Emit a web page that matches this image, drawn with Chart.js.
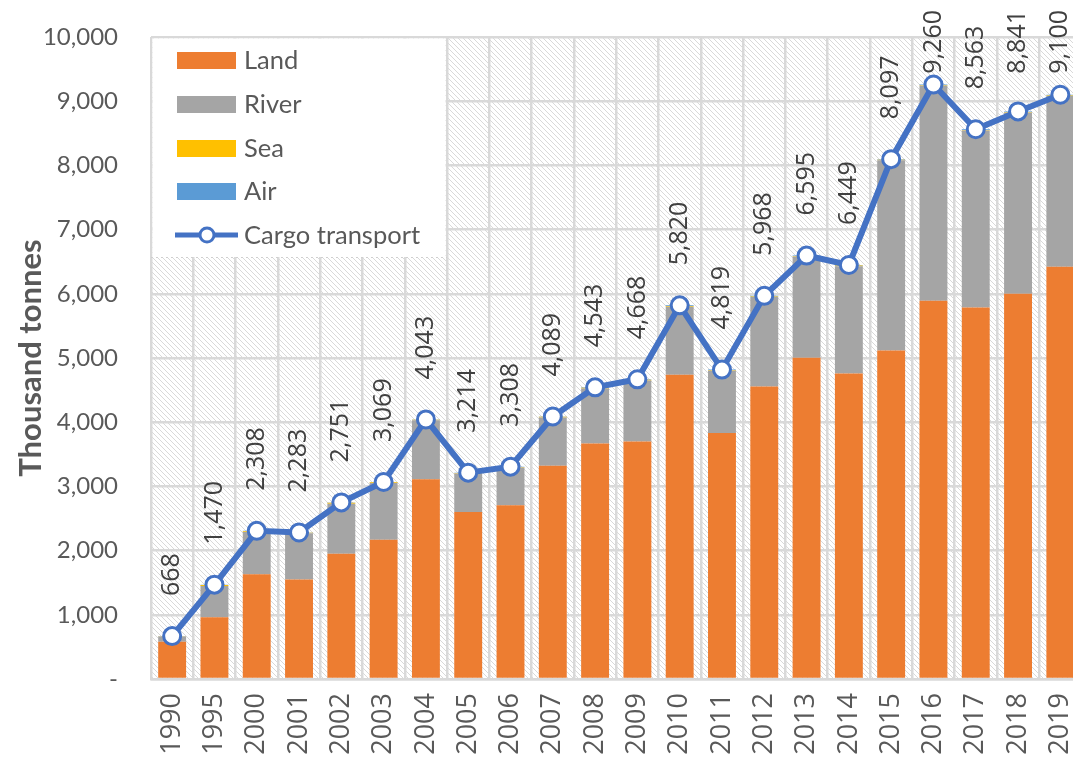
<!DOCTYPE html>
<html>
<head>
<meta charset="utf-8">
<script src="https://cdn.jsdelivr.net/npm/chart.js@4"></script>
<style>
  html, body { margin: 0; padding: 0; background: #ffffff; overflow: hidden; }
  #wrap { position: relative; width: 1107px; height: 767px; }
</style>
</head>
<body>
<div id="wrap"><canvas id="c" width="1107" height="767"></canvas></div>
<script>
// ---- Data ----
const years = ['1990','1995','2000','2001','2002','2003','2004','2005','2006','2007','2008','2009','2010','2011','2012','2013','2014','2015','2016','2017','2018','2019'];
const land  = [580, 960, 1630, 1550, 1950, 2170, 3110, 2600, 2705, 3320, 3670, 3700, 4740, 3830, 4555, 5005, 4760, 5115, 5890, 5785, 6000, 6420];
const river = [82, 488, 660, 719, 779, 883, 919, 600, 589, 755, 855, 950, 1060, 973, 1395, 1572, 1671, 2964, 3350, 2758, 2821, 2660];
const sea   = [4, 18, 10, 8, 16, 10, 8, 8, 8, 8, 10, 10, 10, 8, 8, 8, 8, 8, 8, 8, 8, 8];
const air   = [2, 4, 8, 6, 6, 6, 6, 6, 6, 6, 8, 8, 10, 8, 10, 10, 10, 10, 12, 12, 12, 12];
const cargoTotal = [668, 1470, 2308, 2283, 2751, 3069, 4043, 3214, 3308, 4089, 4543, 4668, 5820, 4819, 5968, 6595, 6449, 8097, 9260, 8563, 8841, 9100];
const yTicks = [0, 1000, 2000, 3000, 4000, 5000, 6000, 7000, 8000, 9000, 10000];
const seriesNames = ['Land', 'River', 'Sea', 'Air', 'Cargo transport'];
const yTitle = 'Thousand tonnes';

const COL = { land: '#ED7D31', river: '#A5A5A5', sea: '#FFC000', air: '#5B9BD5', line: '#4472C4' };
const GRID = '#d9d9d9';

// hatch pattern
function makeHatch() {
  const p = 5;
  const c = document.createElement('canvas');
  c.width = p; c.height = p;
  const g = c.getContext('2d');
  g.fillStyle = '#ffffff';
  g.fillRect(0, 0, p, p);
  g.strokeStyle = '#d9d9d9';
  g.lineWidth = 1;
  g.beginPath();
  g.moveTo(-1, -1); g.lineTo(p + 1, p + 1);
  g.moveTo(-1, p - 1); g.lineTo(1, p + 1);
  g.moveTo(p - 1, -1); g.lineTo(p + 1, 1);
  g.stroke();
  return c;
}

const bgPlugin = {
  id: 'bg',
  beforeDraw(chart) {
    const { ctx, chartArea: a } = chart;
    ctx.save();
    ctx.fillStyle = ctx.createPattern(makeHatch(), 'repeat');
    ctx.fillRect(a.left, a.top, a.right - a.left, a.bottom - a.top);
    ctx.restore();
  }
};

const legendPlugin = {
  id: 'customLegend',
  beforeDatasetsDraw(chart) {
    const { ctx, chartArea: a, scales } = chart;
    const xs = scales.x;
    const boundary = (xs.getPixelForValue(6) + xs.getPixelForValue(7)) / 2;
    const top = scales.y.getPixelForValue(10000);
    const bottom = 257;
    ctx.save();
    ctx.fillStyle = '#ffffff';
    ctx.fillRect(a.left + 1.5, top + 1.5, boundary - a.left - 3, bottom - top - 1.5);
    ctx.strokeStyle = '#cfcfcf';
    ctx.lineWidth = 1;
    ctx.setLineDash([2, 3]);
    ctx.beginPath();
    ctx.moveTo(a.left, bottom + 0.5); ctx.lineTo(boundary, bottom + 0.5);
    ctx.stroke();
    ctx.setLineDash([]);

    const rows = [60, 104, 148, 191, 235];
    const cols = [COL.land, COL.river, COL.sea, COL.air];
    ctx.font = '25.5px Lato';
    ctx.textBaseline = 'middle';
    ctx.textAlign = 'left';
    for (let i = 0; i < 5; i++) {
      const y = rows[i];
      if (i < 4) {
        ctx.fillStyle = cols[i];
        ctx.fillRect(177, y - 8, 59, 17);
      } else {
        ctx.strokeStyle = COL.line;
        ctx.lineWidth = 5;
        ctx.beginPath();
        ctx.moveTo(175, y); ctx.lineTo(238, y);
        ctx.stroke();
        ctx.beginPath();
        ctx.arc(207, y, 7, 0, Math.PI * 2);
        ctx.fillStyle = '#ffffff';
        ctx.fill();
        ctx.lineWidth = 3;
        ctx.stroke();
      }
      ctx.fillStyle = '#595959';
      ctx.fillText(seriesNames[i], 244, y + 1);
    }
    ctx.restore();
  }
};

const labelPlugin = {
  id: 'lineLabels',
  afterDatasetsDraw(chart) {
    const { ctx } = chart;
    const meta = chart.getDatasetMeta(4);
    ctx.save();
    ctx.font = '25px "Open Sans"';
    ctx.fillStyle = '#404040';
    ctx.textAlign = 'left';
    ctx.textBaseline = 'middle';
    meta.data.forEach((pt, i) => {
      const txt = cargoTotal[i].toLocaleString('en-US');
      const w = ctx.measureText(txt).width;
      let start = pt.y - 40;
      if (start - w < 10) start = 10 + w;
      ctx.save();
      ctx.translate(pt.x, start);
      ctx.rotate(-Math.PI / 2);
      ctx.fillText(txt, 0, 0);
      ctx.restore();
    });
    ctx.restore();
  }
};

const ctx = document.getElementById('c').getContext('2d');
new Chart(ctx, {
  data: {
    labels: years,
    datasets: [
      { type: 'bar', label: seriesNames[0], data: land,  backgroundColor: COL.land,  order: 2, stack: 'modes' },
      { type: 'bar', label: seriesNames[1], data: river, backgroundColor: COL.river, order: 2, stack: 'modes' },
      { type: 'bar', label: seriesNames[2], data: sea,   backgroundColor: COL.sea,   order: 2, stack: 'modes' },
      { type: 'bar', label: seriesNames[3], data: air,   backgroundColor: COL.air,   order: 2, stack: 'modes' },
      { type: 'line', label: seriesNames[4], data: cargoTotal, stack: 'total', order: 0,
        borderColor: COL.line, borderWidth: 6, tension: 0,
        pointRadius: 8.5, pointBackgroundColor: '#ffffff', pointBorderColor: COL.line, pointBorderWidth: 3 }
    ]
  },
  options: {
    responsive: false,
    animation: false,
    devicePixelRatio: 1,
    layout: { padding: { top: 37, right: 0, bottom: 0, left: 0 } },
    datasets: { bar: { categoryPercentage: 1, barPercentage: 0.66 } },
    plugins: { legend: { display: false }, tooltip: { enabled: false }, title: { display: false } },
    scales: {
      x: {
        stacked: true,
        offset: true,
        grid: { color: GRID, lineWidth: 2.5, offset: true, drawTicks: false },
        border: { color: GRID, width: 2.5 },
        ticks: { font: { family: 'Open Sans', size: 27 }, color: '#595959', minRotation: 90, maxRotation: 90, padding: 14, autoSkip: false },
        afterFit(s) { s.height = 88; }
      },
      y: {
        stacked: true,
        min: 0, max: 10000,
        afterBuildTicks(s) { s.ticks = yTicks.map(v => ({ value: v })); },
        grid: { color: GRID, lineWidth: 2.5, drawTicks: false },
        border: { display: false },
        ticks: {
          font: { family: 'Lato', size: 24 }, color: '#595959', padding: 33,
          callback: v => v === 0 ? '-' : v.toLocaleString('en-US')
        },
        title: { display: true, text: yTitle, color: '#595959', font: { family: 'Lato', size: 31, weight: 'bold' }, padding: { top: 12, bottom: 0 } },
        afterFit(s) { s.width = 151; s.paddingTop = 0; s.paddingBottom = 0; }
      }
    }
  },
  plugins: [bgPlugin, legendPlugin, labelPlugin]
});
</script>
</body>
</html>
